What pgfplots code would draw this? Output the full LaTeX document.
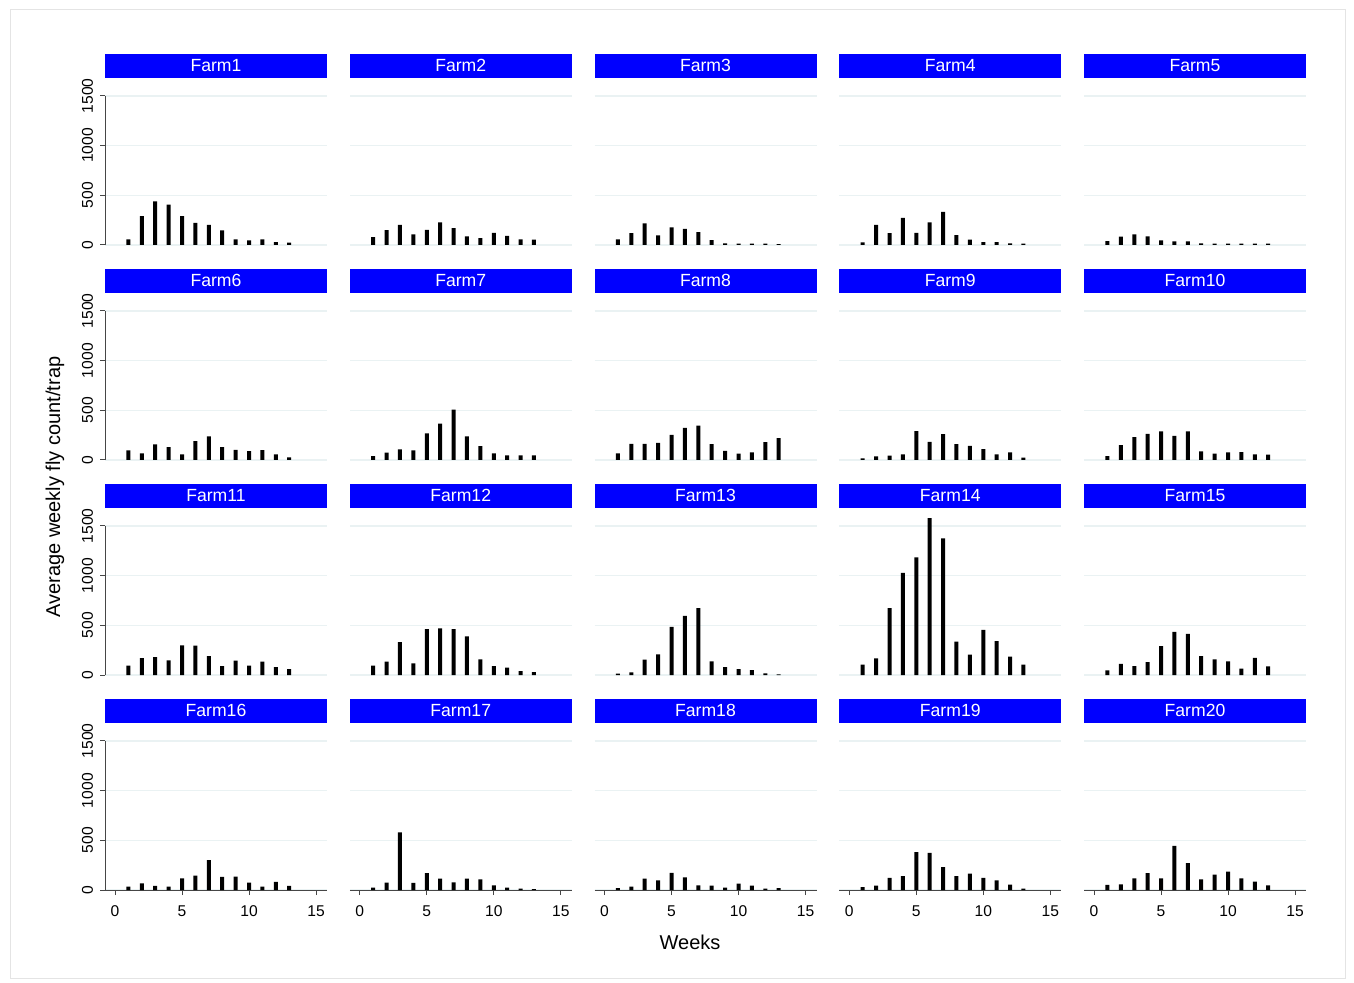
\documentclass[border=0pt]{standalone}
\usepackage{pgfplots}
\usepackage{pgfplotstable}
\pgfplotsset{compat=1.18}
\usepackage{fontspec}
\setmainfont{Liberation Sans}

\definecolor{stripblue}{RGB}{0,0,255}
\definecolor{gridcol}{RGB}{234,242,243}
\definecolor{axcol}{RGB}{70,70,70}
\definecolor{framecol}{RGB}{228,228,228}

% average weekly fly count per trap, weeks 1-13, one column per farm
\pgfplotstableread{
week f1 f2 f3 f4 f5 f6 f7 f8 f9 f10 f11 f12 f13 f14 f15 f16 f17 f18 f19 f20
1 57 80 57 27 40 97 40 67 17 40 94 94 13 104 47 34 24 20 30 51
2 290 150 120 203 83 67 73 163 37 150 171 134 27 167 113 68 74 34 44 57
3 440 203 217 120 107 157 107 163 43 230 181 331 154 673 90 41 581 115 122 118
4 407 107 97 273 87 130 97 173 57 263 147 117 208 1028 130 34 71 98 139 169
5 290 153 177 123 47 57 267 253 290 287 298 462 485 1185 290 118 169 172 382 118
6 223 227 163 227 37 190 367 323 183 243 295 469 596 1580 433 145 115 128 375 443
7 203 170 130 333 37 237 507 347 260 287 191 462 673 1376 413 301 78 47 230 270
8 147 87 50 100 17 130 237 160 160 87 90 388 137 335 190 132 115 44 139 108
9 57 70 17 53 13 103 140 93 143 63 144 157 80 204 157 135 108 24 166 155
10 47 123 13 30 13 90 67 63 110 77 94 90 60 455 137 74 47 64 122 186
11 57 93 13 30 13 100 47 77 57 80 134 74 50 341 63 34 24 44 98 118
12 30 57 13 17 13 57 47 180 77 57 80 40 17 184 173 81 14 14 54 84
13 23 53 10 13 13 27 47 220 23 53 60 30 7 104 87 41 10 20 14 47
}\farms

\pgfplotsset{
  panel/.style={
    scale only axis, width=111pt, height=83.5pt,
    anchor=south west,
    xmin=-0.75, xmax=15.82, ymin=0, ymax=1681,
    axis x line=bottom, axis y line=left,
    axis line style={-, draw=axcol, line width=0.5pt},
    y axis line style={shorten >=8.99pt},
    ytick={0,500,1000,1500}, xtick={0,5,10,15},
    scaled ticks=false,
    ymajorgrids, major grid style={draw=gridcol, line width=0.7pt},
    tick align=outside, major tick length=2.5pt,
    tick style={draw=axcol, line width=0.5pt},
    tick label style={font=\fontsize{7.8}{9}\selectfont},
    /pgf/number format/assume math mode=true,
    /pgf/number format/1000 sep={},
    yticklabel style={rotate=90, anchor=south},
    xticklabel style={yshift=-2pt},
    every axis title shift=0pt,
    title style={at={(0.5,1)}, anchor=south, yshift=0pt, fill=stripblue,
      text=white, minimum width=111pt, minimum height=12pt, inner sep=0pt,
      font=\fontsize{8.8}{10}\selectfont},
    ybar, bar width=2pt,
  },
  inner/.style={y axis line style={draw=none}, yticklabels={}, ytick style={draw=none}},
  upper/.style={x axis line style={draw=none}, xtick=\empty},
}

% \panel{col}{row}{farm number}{extra options}
\newcommand{\panel}[4]{%
  \begin{axis}[panel, at={(52.5pt+122.375pt*#1,-122.5pt-107.5pt*#2)},
      title={Farm#3}, #4]
    \addplot[fill=black, draw=none] table[x=week, y=f#3] {\farms};
  \end{axis}}

\begin{document}
\begin{tikzpicture}
\useasboundingbox (0,0) rectangle (677pt,-491.5pt);
\draw[framecol, line width=0.5pt] (5pt,-5pt) rectangle (672.5pt,-489pt);

\panel{0}{0}{1}{upper}
\panel{1}{0}{2}{upper,inner}
\panel{2}{0}{3}{upper,inner}
\panel{3}{0}{4}{upper,inner}
\panel{4}{0}{5}{upper,inner}

\panel{0}{1}{6}{upper}
\panel{1}{1}{7}{upper,inner}
\panel{2}{1}{8}{upper,inner}
\panel{3}{1}{9}{upper,inner}
\panel{4}{1}{10}{upper,inner}

\panel{0}{2}{11}{upper}
\panel{1}{2}{12}{upper,inner}
\panel{2}{2}{13}{upper,inner}
\panel{3}{2}{14}{upper,inner}
\panel{4}{2}{15}{upper,inner}

\panel{0}{3}{16}{}
\panel{1}{3}{17}{inner}
\panel{2}{3}{18}{inner}
\panel{3}{3}{19}{inner}
\panel{4}{3}{20}{inner}

\node[rotate=90, font=\fontsize{10}{12}\selectfont] at (27.5pt,-243.5pt) {Average weekly fly count/trap};
\node[font=\fontsize{10}{12}\selectfont] at (345pt,-471pt) {Weeks};
\end{tikzpicture}
\end{document}
